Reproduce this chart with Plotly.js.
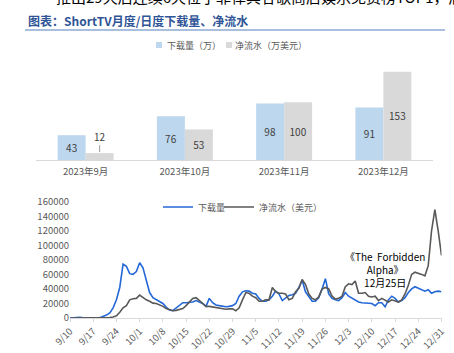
<!DOCTYPE html>
<html><head><meta charset="utf-8">
<script src="https://cdn.plot.ly/plotly-3.0.1.min.js"></script>
<style>html,body{margin:0;padding:0;background:#fff;}#chart{width:454px;height:353px;}</style>
</head><body><div id="chart"></div>
<script>
// Monthly data
const months = ['2023年9月','2023年10月','2023年11月','2023年12月'];
const monthlyDownloads = [43, 76, 98, 91];      // 下载量（万）
const monthlyRevenue = [12, 53, 100, 153];      // 净流水（万美元）
const monthlyRevenueLabelPos = ['none','inside','inside','inside'];
const barNames = ['下载量（万）', '净流水（万美元）'];
const barColors = ['#BDD7EE', '#D9D9D9'];

// Daily data, 2023-09-10 .. 2023-12-31
const dayStart = '2023-09-10';
const dailyDownloads = [
  0,500,1000,800,300,0,0,0,0,500,
  2000,4000,7000,14000,25000,42000,74000,71000,61000,60000,
  64000,76000,69000,50000,35000,28000,25000,22000,20000,15000,
  11000,10000,14000,17000,21000,21000,21000,22000,24000,22000,
  20000,16000,27000,21000,18000,17000,16000,15500,16000,17000,
  20000,30000,36000,37500,37000,34000,33000,27000,23000,23000,
  25000,30000,37000,33000,24000,28000,31000,32000,34000,42000,
  52000,36000,29000,23000,23000,28000,40000,54000,33000,27000,
  25000,24000,28000,35000,30000,27000,24000,22000,21000,20500,
  20000,20000,17000,21000,21000,15500,25000,30000,27000,22000,
  24000,28000,35000,40000,43000,41000,38000,37000,39000,34000,
  36000,37000,36000
];
const dailyRevenue = [
  0,0,0,0,0,0,0,0,0,0,
  0,200,500,1500,3000,8000,14000,17000,25000,26500,
  27000,31500,28000,25000,23000,20500,20000,18500,16000,13000,
  11000,10000,10500,12000,13000,17000,22000,27000,28000,24000,
  21000,16000,16000,15000,14500,13500,12500,12000,12500,12500,
  10000,14000,25000,35000,34000,30000,28000,23000,23000,25000,
  25000,42000,36000,34000,34000,33000,25000,27000,36000,41000,
  53000,46000,33000,27000,25000,29000,40000,42000,40000,30000,
  26000,27000,30000,43000,47000,46000,51000,34000,34000,35000,
  30000,29000,30000,24000,27000,25000,22000,25000,24000,22000,
  25000,33000,45000,60000,63000,62000,60000,58000,72000,120000,
  149000,120000,86000
];
const yTicks = [0,20000,40000,60000,80000,100000,120000,140000,160000];

const titleText = '图表：ShortTV月度/日度下载量、净流水';
const topText = '推出29天后连续6天位于菲律宾谷歌商店娱乐免费榜TOP1，后充';
const noteText = '《The  Forbidden<br>Alpha》<br>12月25日';

// dates
const dates = [];
{
  const d0 = new Date(dayStart + 'T00:00:00Z');
  for (let i = 0; i < dailyDownloads.length; i++) {
    const d = new Date(d0.getTime() + i * 86400000);
    dates.push(d.toISOString().slice(0, 10));
  }
}

const FONT = '"Microsoft YaHei", "Noto Sans CJK SC", sans-serif';
const W = 454, H = 353;
const px = v => v / W;
const py = v => 1 - v / H;

const traces = [
  {
    type: 'bar', x: months, y: monthlyDownloads, name: barNames[0],
    marker: {color: barColors[0]}, xaxis: 'x', yaxis: 'y', showlegend: false,
    text: monthlyDownloads.map(String), textposition: 'inside',
    insidetextanchor: 'middle',
    textfont: {size: 10, color: '#404040', family: FONT},
    hoverinfo: 'skip'
  },
  {
    type: 'bar', x: months, y: monthlyRevenue, name: barNames[1],
    marker: {color: barColors[1]}, xaxis: 'x', yaxis: 'y', showlegend: false,
    text: monthlyRevenue.map(String), textposition: monthlyRevenueLabelPos,
    insidetextanchor: 'middle',
    textfont: {size: 10, color: '#404040', family: FONT},
    hoverinfo: 'skip'
  },
  {
    type: 'scatter', mode: 'lines', x: dates, y: dailyDownloads, name: '下载量',
    line: {color: '#2468D8', width: 1.6}, xaxis: 'x2', yaxis: 'y2', legend: 'legend2'
  },
  {
    type: 'scatter', mode: 'lines', x: dates, y: dailyRevenue, name: '净流水（美元）',
    line: {color: '#595959', width: 1.6}, xaxis: 'x2', yaxis: 'y2', legend: 'legend3'
  }
];

// bar legend (squares + labels)
const legSquares = [156, 226];
const legTexts = [165, 233];
const barLegendShapes = barColors.map((c, i) => ({
  type: 'rect', xref: 'paper', yref: 'paper',
  x0: px(legSquares[i]), x1: px(legSquares[i] + 6), y0: py(48), y1: py(42),
  fillcolor: c, line: {width: 0}
}));
const barLegendAnns = barNames.map((n, i) => ({
  xref: 'paper', yref: 'paper', x: px(legTexts[i]), y: py(45), xanchor: 'left', yanchor: 'middle',
  text: n, showarrow: false, font: {size: 9, color: '#595959', family: FONT}
}));

const lineLegend = x => ({
  orientation: 'h', x: px(x), xanchor: 'left', y: py(207), yanchor: 'middle',
  font: {size: 9, color: '#595959', family: FONT}, bgcolor: 'rgba(0,0,0,0)',
  itemwidth: 30
});

const layout = {
  width: W, height: H,
  margin: {l: 0, r: 0, t: 0, b: 0},
  paper_bgcolor: '#ffffff', plot_bgcolor: '#ffffff',
  font: {family: FONT, size: 9, color: '#595959'},
  showlegend: true,
  barmode: 'group', bargap: 0.436, bargroupgap: 0,
  xaxis: {
    domain: [px(36), px(433)], anchor: 'y',
    type: 'category', showline: true, linecolor: '#D9D9D9', linewidth: 1,
    ticks: '', showgrid: false, zeroline: false, ticklabelstandoff: 3,
    tickfont: {size: 9.5, color: '#595959', family: FONT}, fixedrange: true
  },
  yaxis: {
    domain: [py(160), py(62)], anchor: 'x', range: [0, 170],
    visible: false, showgrid: false, zeroline: false, fixedrange: true
  },
  xaxis2: {
    domain: [px(70), px(441.5)], anchor: 'y2', type: 'date',
    range: [dates[0], dates[dates.length - 1]],
    tick0: dates[0], dtick: 7 * 86400000, tickformat: '%-m/%-d',
    tickangle: -45, ticks: 'outside', ticklen: 3, tickcolor: '#D9D9D9',
    showline: true, linecolor: '#D9D9D9', linewidth: 1,
    showgrid: false, zeroline: false,
    tickfont: {size: 9.5, color: '#595959', family: FONT}, fixedrange: true
  },
  yaxis2: {
    domain: [py(318), py(201.7)], anchor: 'x2', range: [0, 160000],
    tickvals: yTicks, ticktext: yTicks.map(String),
    showgrid: false, zeroline: false, showline: false, ticks: '',
    tickfont: {size: 9.5, color: '#595959', family: FONT}, fixedrange: true
  },
  legend2: lineLegend(158),
  legend3: lineLegend(219),
  shapes: [
    {type: 'line', xref: 'paper', yref: 'paper', x0: px(25), x1: px(445), y0: py(30), y1: py(30),
     line: {color: '#8EA9D6', width: 1.5}}
  ].concat(barLegendShapes),
  annotations: [
    {xref: 'paper', yref: 'paper', x: px(54), y: py(-4), xanchor: 'left', yanchor: 'middle',
     text: topText, showarrow: false, font: {size: 15, color: '#000000', family: FONT}},
    {xref: 'paper', yref: 'paper', x: px(26), y: py(20), xanchor: 'left', yanchor: 'middle',
     text: '<b>' + titleText + '</b>', showarrow: false,
     font: {size: 12, color: '#2F5597', family: FONT}},
    {xref: 'x', yref: 'y', x: months[0], y: monthlyRevenue[0], xshift: 14,
     text: String(monthlyRevenue[0]), showarrow: true, arrowhead: 0, arrowwidth: 0.8,
     arrowcolor: '#808080', ax: 0, ay: -17, standoff: 1,
     font: {size: 10, color: '#404040', family: FONT}},
    {xref: 'paper', yref: 'paper', x: px(385), y: py(269), xanchor: 'center', yanchor: 'middle',
     text: noteText, showarrow: false, align: 'center',
     font: {size: 10, color: '#000000', family: FONT}}
  ].concat(barLegendAnns)
};

Plotly.newPlot('chart', traces, layout, {staticPlot: true, displayModeBar: false});
</script>
</body></html>
